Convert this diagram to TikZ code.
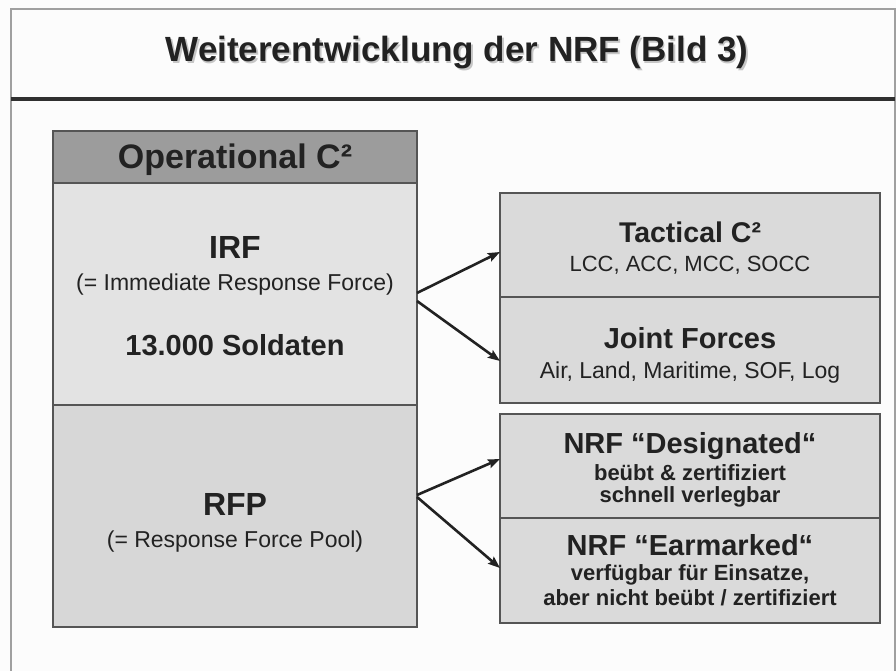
\documentclass[tikz,border=0pt]{standalone}
\usepackage{fontspec}
\setmainfont{Liberation Sans}
\usetikzlibrary{arrows.meta}

\definecolor{paper}{HTML}{FCFCFC}
\definecolor{framegray}{HTML}{A0A0A0}
\definecolor{rulegray}{HTML}{303030}
\definecolor{edgegray}{HTML}{555555}
\definecolor{headgray}{HTML}{9C9C9C}
\definecolor{irfgray}{HTML}{E3E3E3}
\definecolor{poolgray}{HTML}{D7D7D7}
\definecolor{boxgray}{HTML}{DADADA}
\definecolor{inkgray}{HTML}{222222}

\tikzset{
    panel/.style={draw=edgegray, line width=1.4pt, rectangle, inner sep=0pt, outer sep=0pt},
    bigtxt/.style={anchor=base, text=inkgray, font=\bfseries\fontsize{#1}{#1}\selectfont},
    smalltxt/.style={anchor=base, text=inkgray, font=\fontsize{#1}{#1}\selectfont},
    subtxt/.style={anchor=base, text=inkgray, font=\bfseries\fontsize{#1}{#1}\selectfont},
    arr/.style={draw=inkgray, line width=2.6pt, -{Stealth[length=12pt, width=9pt, inset=2pt]}}
}

\begin{document}
\begin{tikzpicture}[x=1pt, y=-1pt]
\useasboundingbox (0,0) rectangle (896,671);
\fill[paper] (0,0) rectangle (896,671);

% frame and title
\draw[framegray, line width=2pt] (11,671) -- (11,9) -- (895,9) -- (895,671);
\draw[rulegray, line width=3.2pt] (11,99) -- (895,99);
\node[bigtxt=35pt, text=gray!45] (titleshadow) at (458.5,63.5) {Weiterentwicklung der NRF (Bild 3)};
\node[bigtxt=35pt] (title) at (457,62) {Weiterentwicklung der NRF (Bild 3)};

% left column
\node[panel, fill=headgray, minimum width=364pt, minimum height=52pt] (op) at (235,157) {};
\node[panel, fill=irfgray, minimum width=364pt, minimum height=222pt] (irf) at (235,294) {};
\node[panel, fill=poolgray, minimum width=364pt, minimum height=222pt] (rfp) at (235,516) {};

\node[bigtxt=34pt] (optitle) at (235,169) {Operational C²};
\node[bigtxt=32pt] (irfname) at (235,258) {IRF};
\node[smalltxt=23pt] (irfdesc) at (235,290) {(= Immediate Response Force)};
\node[bigtxt=29pt] (irfsize) at (235,355) {13.000 Soldaten};
\node[bigtxt=32pt] (rfpname) at (235,515) {RFP};
\node[smalltxt=23pt] (rfpdesc) at (235,547) {(= Response Force Pool)};

% right column
\node[panel, fill=boxgray, minimum width=380pt, minimum height=104pt] (tac) at (690,245) {};
\node[panel, fill=boxgray, minimum width=380pt, minimum height=106pt] (joint) at (690,350) {};
\node[panel, fill=boxgray, minimum width=380pt, minimum height=104pt] (desig) at (690,466) {};
\node[panel, fill=boxgray, minimum width=380pt, minimum height=105pt] (earm) at (690,570.5) {};

\node[bigtxt=28.5pt] (tactitle) at (690,242) {Tactical C²};
\node[smalltxt=22pt] (tacsub) at (690,271) {LCC, ACC, MCC, SOCC};
\node[bigtxt=29pt] (jointtitle) at (690,348) {Joint Forces};
\node[smalltxt=23pt] (jointsub) at (690,378) {Air, Land, Maritime, SOF, Log};
\node[bigtxt=29pt] (desigtitle) at (690,453) {NRF “Designated“};
\node[subtxt=22pt] (desigsubA) at (690,480) {beübt \& zertifiziert};
\node[subtxt=22pt] (desigsubB) at (690,502) {schnell verlegbar};
\node[bigtxt=29pt] (earmtitle) at (690,555) {NRF “Earmarked“};
\node[subtxt=22pt] (earmsubA) at (690,580) {verfügbar für Einsatze,};
\node[subtxt=22pt] (earmsubB) at (690,605) {aber nicht beübt / zertifiziert};

% arrows
\draw[arr] ([yshift=1pt]irf.east) -- ([yshift=-7pt]tac.west);
\draw[arr] ([yshift=-7pt]irf.east) -- ([yshift=-11pt]joint.west);
\draw[arr] ([yshift=21pt]rfp.east) -- ([yshift=7pt]desig.west);
\draw[arr] ([yshift=19pt]rfp.east) -- ([yshift=2.5pt]earm.west);
\end{tikzpicture}
\end{document}
